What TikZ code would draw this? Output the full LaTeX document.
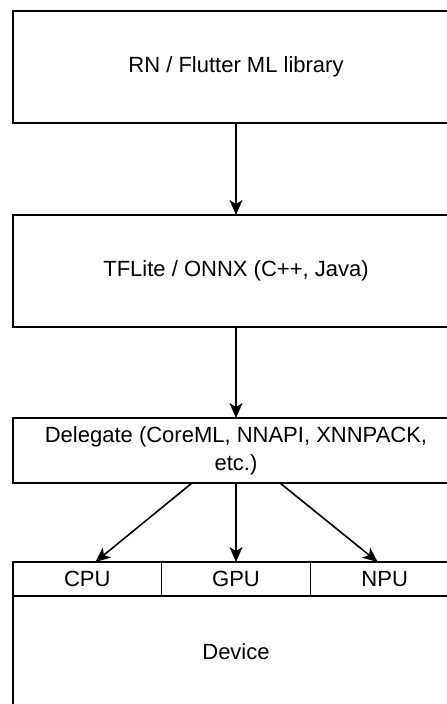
\documentclass[tikz,border=0pt]{standalone}
\usepackage{fontspec}
\setmainfont{Liberation Sans}
\usetikzlibrary{positioning, arrows.meta, calc}
\tikzset{
	>={Stealth[length=15pt, width=13pt, inset=4pt]}, % filled arrow heads
	node distance=92pt, % gap between the stacked layers
	block/.style={draw, outer sep=0pt, minimum width=446pt, minimum height=112pt, align=center, font=\fontsize{22}{28}\selectfont}, % one layer of the stack
	cell/.style={block, minimum width=148.67pt, minimum height=34pt}, % one processor slot on the device
}

\begin{document}
\begin{tikzpicture}[x=1pt, y=-1pt, line width=1.6pt]
	\clip (0,0) rectangle (447,704);
	\node[block] (lib) at (236,67) {RN / Flutter ML library};
	\node[block, below=of lib] (tflite) {TFLite / ONNX (C++, Java)};
	\node[block, minimum height=65pt, below=91pt of tflite] (delegate) {Delegate (CoreML, NNAPI, XNNPACK,\\etc.)};
	\node[cell, below right=79pt and 0pt of delegate.south west] (cpu) {CPU};
	\node[cell, right=0pt of cpu] (gpu) {GPU};
	\node[cell, right=0pt of gpu] (npu) {NPU};
	\node[block, below right=0pt and 0pt of cpu.south west] (device) {Device};
	\path[->] (lib) edge (tflite)
			(tflite) edge (delegate)
			(delegate) edge (gpu)
			($(delegate.south)+(-44,0)$) edge ($(cpu.north)+(8,0)$)
			($(delegate.south)+(44,0)$) edge ($(npu.north)+(-7,0)$);
\end{tikzpicture}
\end{document}
